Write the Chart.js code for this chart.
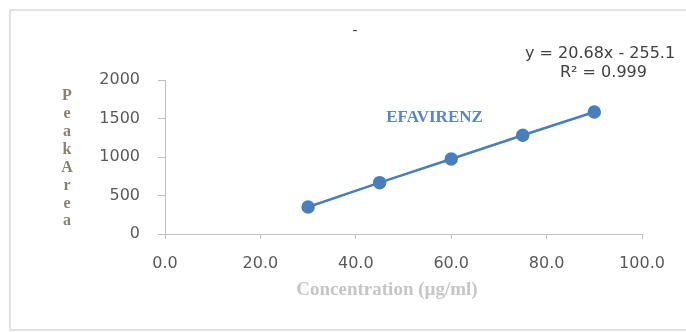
<!DOCTYPE html>
<html>
<head>
<meta charset="utf-8">
<script src="https://cdn.jsdelivr.net/npm/chart.js@4"></script>
<style>
  html, body { margin: 0; padding: 0; background: #fff; }
</style>
</head>
<body>
<canvas id="calib" width="686" height="332"></canvas>
<script>
const concentrations = [30, 45, 60, 75, 90];
const peakAreas = [351, 667, 974, 1282, 1585];
const xTicks = [0, 20, 40, 60, 80, 100];
const yTicks = [0, 500, 1000, 1500, 2000];
const seriesName = "EFAVIRENZ";
const equationLines = ["y = 20.68x - 255.1", "R\u00b2 = 0.999"];
const yTitle = "PeakArea";
const xTitle = "Concentration (\u00b5g/ml)";

const axisGray = "#bfbfbf";
const tickFont = { family: "DejaVu Sans", size: 16 };

// frame, titles and labels drawn on top of the chart
const extras = {
  id: "extras",
  beforeDraw(chart) {
    const c = chart.ctx;
    c.save();
    c.strokeStyle = "#d9d9d9";
    c.lineWidth = 1.5;
    c.strokeRect(10, 10, 700, 320);
    c.restore();
  },
  afterDatasetsDraw(chart) {
    const c = chart.ctx;
    const xs = chart.scales.x, ys = chart.scales.y;
    c.save();
    c.textAlign = "center";
    c.textBaseline = "middle";

    // chart title is just a dash
    c.fillStyle = "#404040";
    c.font = "14px 'DejaVu Sans'";
    c.fillText("-", 355, 31);

    // stacked y title
    c.fillStyle = "#8b7f72";
    c.font = "bold 16px 'Liberation Serif'";
    yTitle.split("").forEach((ch, i) => c.fillText(ch, 67, 96 + i * 17.9));

    // x title
    c.fillStyle = "#c6c6c6";
    c.font = "bold 19px 'Liberation Serif'";
    c.fillText(xTitle, 387, 290);

    // series label
    c.fillStyle = "#5b86c6";
    c.font = "bold 17px 'Liberation Serif'";
    c.fillText(seriesName, xs.getPixelForValue(56.5), ys.getPixelForValue(1506));

    // trendline equation
    c.fillStyle = "#404040";
    c.font = "16px 'DejaVu Sans'";
    c.textAlign = "left";
    c.fillText(equationLines[0], 525, 54);
    c.fillText(equationLines[1], 560, 73);
    c.restore();
  }
};

new Chart(document.getElementById("calib"), {
  type: "scatter",
  data: {
    datasets: [
      {
        label: seriesName,
        data: concentrations.map((x, i) => ({ x: x, y: peakAreas[i] })),
        showLine: true,
        borderColor: "#4a7ebb",
        backgroundColor: "#4a7ebb",
        borderWidth: 2.5,
        pointRadius: 5.5,
        pointHoverRadius: 5.5,
      },
    ],
  },
  options: {
    responsive: false,
    animation: false,
    layout: { padding: { left: 0, top: 80, right: 44, bottom: 0 } },
    plugins: {
      legend: { display: false },
      tooltip: { enabled: false },
    },
    scales: {
      x: {
        type: "linear",
        min: xTicks[0],
        max: xTicks[xTicks.length - 1],
        afterBuildTicks: (s) => { s.ticks = xTicks.map((v) => ({ value: v })); },
        afterFit: (s) => { s.height = 98; },
        border: { color: axisGray, width: 1 },
        grid: { drawOnChartArea: false, color: axisGray, tickLength: 5 },
        ticks: {
          font: tickFont,
          color: "#595959",
          padding: 15,
          maxRotation: 0,
          callback: (v) => Number(v).toFixed(1),
        },
      },
      y: {
        type: "linear",
        min: yTicks[0],
        max: yTicks[yTicks.length - 1],
        afterBuildTicks: (s) => { s.ticks = yTicks.map((v) => ({ value: v })); },
        afterFit: (s) => { s.width = 165; },
        border: { color: axisGray, width: 1 },
        grid: { drawOnChartArea: false, color: axisGray, tickLength: 7 },
        ticks: {
          font: tickFont,
          color: "#595959",
          padding: 18,
          callback: (v) => String(v),
        },
      },
    },
  },
  plugins: [extras],
});
</script>
</body>
</html>
